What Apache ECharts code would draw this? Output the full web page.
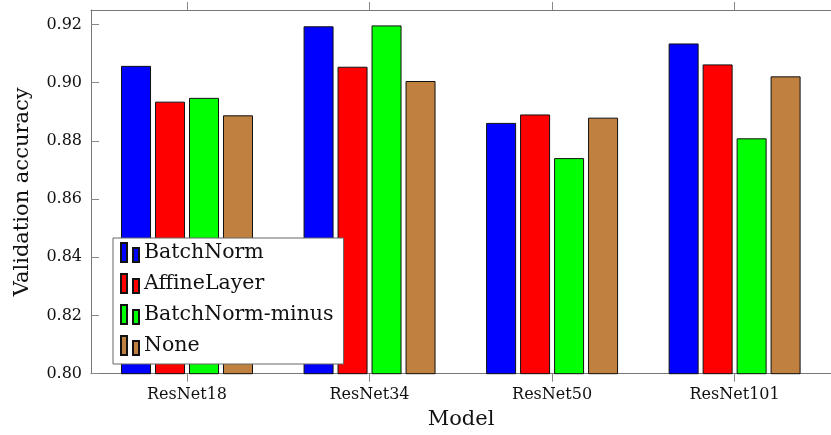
<!DOCTYPE html>
<html>
<head>
<meta charset="utf-8">
<script src="https://cdn.jsdelivr.net/npm/echarts@6/dist/echarts.min.js"></script>
<style>html,body{margin:0;padding:0;background:#fff}#c{width:831px;height:435px}</style>
</head>
<body>
<div id="c"></div>
<script>
const categories = ['ResNet18', 'ResNet34', 'ResNet50', 'ResNet101'];
const seriesNames = ['BatchNorm', 'AffineLayer', 'BatchNorm-minus', 'None'];
const batchNorm = [0.9058, 0.9194, 0.8862, 0.9135];
const affineLayer = [0.8935, 0.9055, 0.8891, 0.9063];
const batchNormMinus = [0.8948, 0.9197, 0.8741, 0.8809];
const none = [0.8888, 0.9006, 0.8880, 0.9022];
const yTicks = [0.80, 0.82, 0.84, 0.86, 0.88, 0.90, 0.92];
const colors = ['#0000ff', '#ff0000', '#00ff00', '#bf8040'];
const values = [batchNorm, affineLayer, batchNormMinus, none];

const FONT = 'DejaVu Serif';
const catIdx = categories.map((c, i) => i);
const chart = echarts.init(document.getElementById('c'), null, {renderer: 'canvas'});
const legendIcon = 'path://M0,0 L6,0 L6,19 L0,19 Z M12,5 L18,5 L18,19 L12,19 Z';

chart.setOption({
  animation: false,
  backgroundColor: '#fff',
  textStyle: {fontFamily: FONT},
  grid: {left: 91, top: 10, width: 750, bottom: 61.3, containLabel: false},
  legend: {
    orient: 'vertical', left: 113, top: 238,
    backgroundColor: '#fff', borderColor: '#666', borderWidth: 1,
    padding: [4, 10, 8, 7], itemGap: 10, itemWidth: 18, itemHeight: 19,
    textStyle: {fontFamily: FONT, fontSize: 20.5, color: '#111'},
    data: seriesNames.map(n => ({name: n, icon: legendIcon}))
  },
  xAxis: [{
    type: 'value', min: -0.526, max: 3.528,
    name: 'Model', nameLocation: 'middle', nameGap: 35,
    nameTextStyle: {fontFamily: FONT, fontSize: 21, color: '#111'},
    axisLine: {show: true, onZero: false, lineStyle: {color: '#777', width: 1}},
    axisTick: {show: true, inside: false, length: 8, customValues: catIdx, lineStyle: {color: '#888'}},
    axisLabel: {customValues: catIdx, margin: 13, fontFamily: FONT, fontSize: 16, color: '#111',
      formatter: v => categories[Math.round(v)] || ''},
    splitLine: {show: false}
  }, {
    type: 'value', min: -0.526, max: 3.528, position: 'top',
    axisLine: {show: true, onZero: false, lineStyle: {color: '#777', width: 1}},
    axisTick: {show: true, inside: false, length: 8, customValues: catIdx, lineStyle: {color: '#888'}},
    axisLabel: {show: false},
    splitLine: {show: false}
  }],
  yAxis: {
    type: 'value', min: 0.80, max: 0.925, interval: 0.02,
    name: 'Validation accuracy', nameLocation: 'middle', nameGap: 58,
    nameTextStyle: {fontFamily: FONT, fontSize: 21, color: '#111'},
    axisLine: {show: true, onZero: false, lineStyle: {color: '#777', width: 1}},
    axisTick: {show: true, inside: true, length: 8, lineStyle: {color: '#888'}},
    axisLabel: {margin: 9, fontFamily: FONT, fontSize: 16, color: '#111', showMaxLabel: false,
      formatter: v => (yTicks.some(t => Math.abs(t - v) < 1e-6) ? v.toFixed(2) : '')},
    splitLine: {show: false}
  },
  series: seriesNames.map((n, s) => ({
    name: n, type: 'bar', xAxisIndex: 0,
    barWidth: 30, barGap: '13.3%',
    itemStyle: {color: colors[s], borderColor: '#111', borderWidth: 1},
    data: values[s].map((v, i) => [catIdx[i], v])
  }))
});
</script>
</body>
</html>
